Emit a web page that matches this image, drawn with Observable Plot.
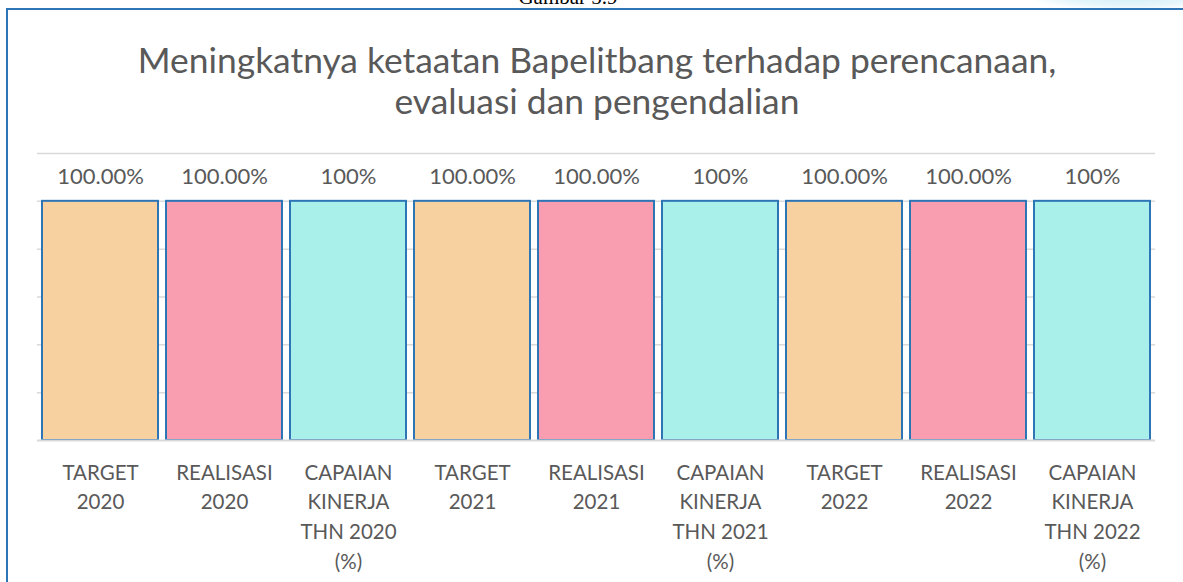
<!DOCTYPE html>
<html><head><meta charset="utf-8">
<script src="https://cdn.jsdelivr.net/npm/d3@7"></script>
<script src="https://cdn.jsdelivr.net/npm/@observablehq/plot@0.6"></script>
<style>
html,body{margin:0;padding:0;background:#fff;width:1183px;height:582px;overflow:hidden;}
body{position:relative;}
#gambar{position:absolute;left:0;width:1136px;top:-15px;text-align:center;font-family:"Liberation Serif",serif;font-size:21px;color:#000;line-height:24px;}
#blob{position:absolute;left:1030px;top:-20px;width:200px;height:30px;background:radial-gradient(ellipse at center,#cfeef8 0%,#e6f6fb 50%,rgba(255,255,255,0) 75%);}
#frame{position:absolute;left:6px;top:8px;width:1300px;height:700px;border-left:2px solid #2e75b6;border-top:2px solid #2e75b6;}
#title{position:absolute;left:0;width:1194px;top:39px;text-align:center;font-family:Lato,sans-serif;font-size:35.4px;color:#595959;line-height:41px;}
#chart{position:absolute;left:0;top:130px;}
</style></head>
<body>
<div id="blob"></div>
<div id="gambar">Gambar 5.9</div>
<div id="frame"></div>
<div id="title">Meningkatnya ketaatan Bapelitbang terhadap perencanaan,<br>evaluasi dan pengendalian</div>
<div id="chart"></div>
<script>
const categories = [
  "TARGET\n2020", "REALISASI\n2020", "CAPAIAN\nKINERJA\nTHN 2020\n(%)",
  "TARGET\n2021", "REALISASI\n2021", "CAPAIAN\nKINERJA\nTHN 2021\n(%)",
  "TARGET\n2022", "REALISASI\n2022", "CAPAIAN\nKINERJA\nTHN 2022\n(%)"
];
const seriesOf = ["TARGET","REALISASI","CAPAIAN","TARGET","REALISASI","CAPAIAN","TARGET","REALISASI","CAPAIAN"];
const values = [100, 100, 100, 100, 100, 100, 100, 100, 100];
const valueLabels = ["100.00%","100.00%","100%","100.00%","100.00%","100%","100.00%","100.00%","100%"];
const seriesNames = ["TARGET","REALISASI","CAPAIAN"];
const seriesColors = ["#f7d1a0","#f99db0","#a9f0ea"];
const yTicks = [20, 40, 60, 80, 100, 120];

const data = categories.map((c, i) => ({cat: c, series: seriesOf[i], value: values[i], label: valueLabels[i]}));

const chart = Plot.plot({
  width: 1183,
  height: 452,
  marginLeft: 37,
  marginRight: 28,
  marginTop: 23,
  marginBottom: 142,
  style: {fontFamily: "Lato, sans-serif", background: "transparent"},
  x: {domain: categories, paddingInner: 0.062, paddingOuter: 0.031, axis: null},
  y: {domain: [0, 120], axis: null},
  color: {domain: seriesNames, range: seriesColors},
  marks: [
    Plot.ruleY(yTicks, {stroke: "#d9d9d9", strokeWidth: 1.5}),
    Plot.barY(data, {x: "cat", y: "value", fill: "series", stroke: "#2e75b6", strokeWidth: 2}),
    Plot.ruleY([0], {stroke: "#d9d9d9", strokeWidth: 2}),
    Plot.text(data, {x: "cat", y: "value", text: "label", dy: -24, fontSize: 22, fill: "#595959"}),
    Plot.axisX({tickSize: 0, tickPadding: 18, fontSize: 20.5, lineHeight: 1.45, fill: "#595959", textAnchor: "middle", label: null})
  ]
});
document.getElementById("chart").appendChild(chart);
</script>
</body></html>
